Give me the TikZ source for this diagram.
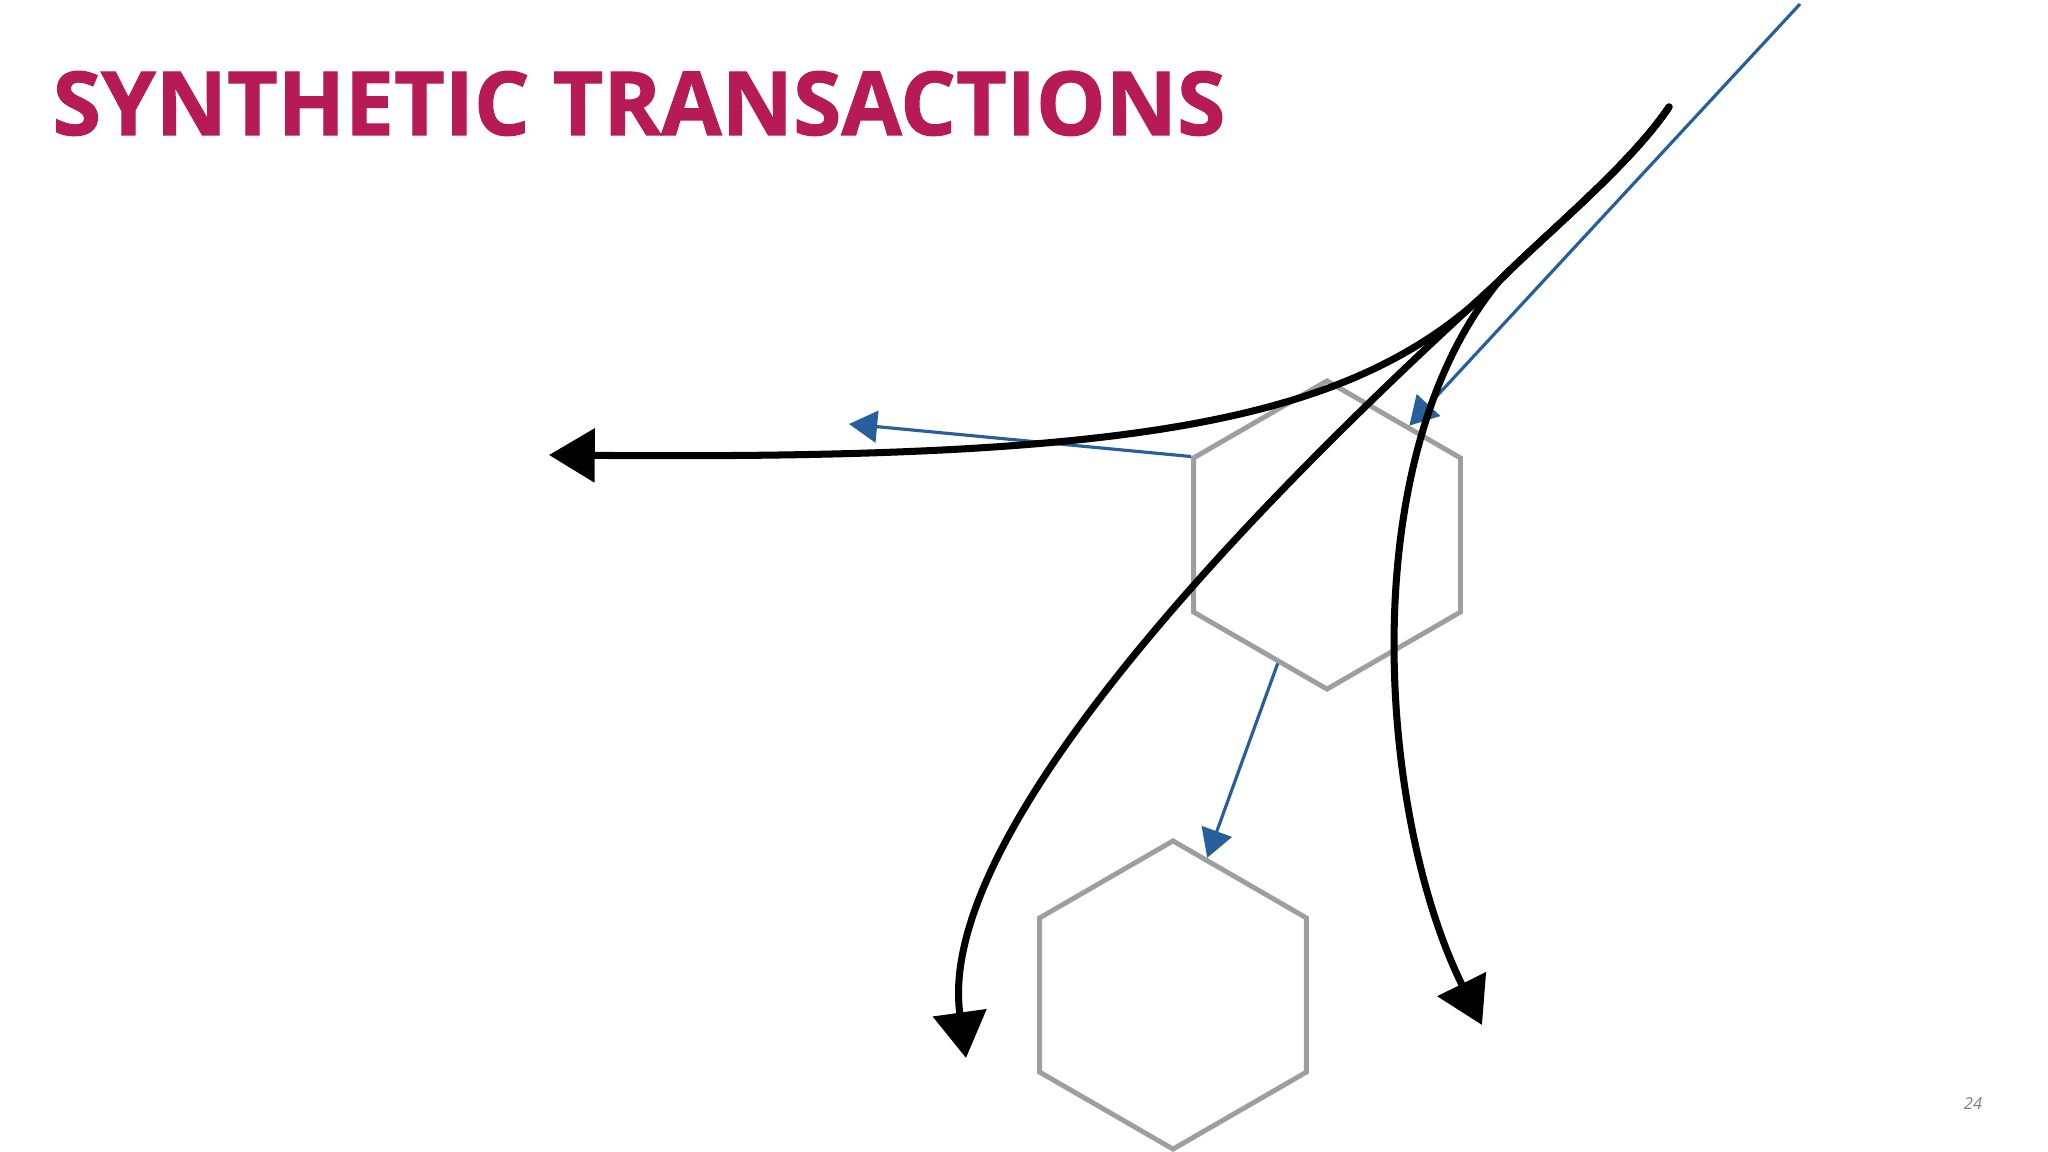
\documentclass[tikz,border=0pt]{standalone}
\usepackage{graphicx}
\usepackage{fontspec}
\setmainfont{Open Sans}
\newfontfamily\titlefont[FakeBold=1.2]{Open Sans Bold}
\usetikzlibrary{arrows.meta,shapes.geometric}
\definecolor{titlered}{RGB}{183,27,85}
\definecolor{probeblue}{RGB}{38,95,155}
\definecolor{hexgray}{RGB}{158,158,158}
\begin{document}
\begin{tikzpicture}[
		x=0.01cm,y=-0.01cm,
		hexa/.style={regular polygon,regular polygon sides=6,shape border rotate=30,draw=hexgray,line width=1.4pt,minimum size=3.08cm,inner sep=0pt},
		flow/.style={line width=2pt,line cap=round,-{Triangle[length=13pt,width=15pt]}},
		probe/.style={probeblue,line width=0.9pt,-{Triangle[length=8pt,width=9pt]}}
	]
	\useasboundingbox (0,0) rectangle (2048,1152);
	\node[anchor=base west,inner sep=0pt,text=titlered] (T) at (52,135) {
		\resizebox{11.72cm}{0.64cm}{\titlefont SYNTHETIC TRANSACTIONS}
	};
	\node[text=gray,font=\itshape\fontsize{4.7}{5}\selectfont] (P) at (1973,1104) {24};
	\node[hexa] (U) at (1327,535) {};
	\node[hexa] (B) at (1173,995) {};
	\coordinate (S) at (1669,107);
	\coordinate (J) at (1500,280);
	\coordinate (EL) at (549,455);
	\coordinate (EM) at (966,1058);
	\coordinate (ER) at (1482,1025);
	\coordinate (Q) at (1800,4);
	\coordinate (W) at (849,424);
	\draw[probe] (U.150) -- (W);
	\draw[probe] (Q) -- (U.53);
	\draw[probe] (U.249) -- (B.76);
	\draw[flow] (S) .. controls (1630,165) and (1550,230) .. (J) .. controls (1360,420) and (1150,460) .. (EL);
	\draw[flow] (S) .. controls (1630,165) and (1550,230) .. (J) .. controls (1380,390) and (930,800) .. (EM);
	\draw[flow] (S) .. controls (1630,165) and (1550,230) .. (J) .. controls (1350,460) and (1380,820) .. (ER);
\end{tikzpicture}
\end{document}
